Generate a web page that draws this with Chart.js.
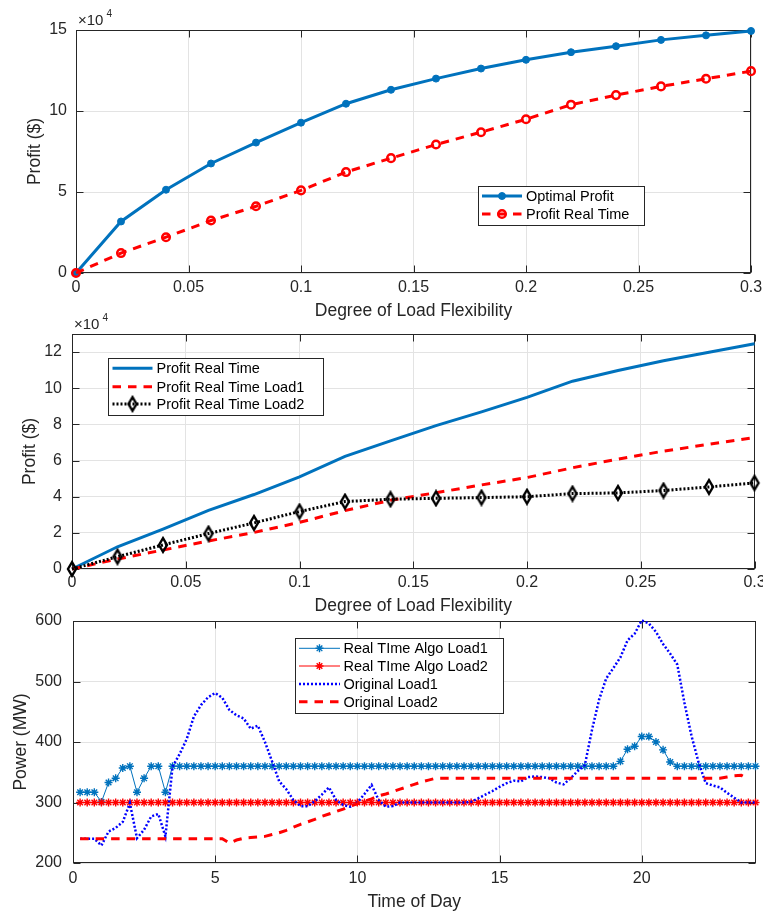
<!DOCTYPE html>
<html>
<head>
<meta charset="utf-8">
<title>Profit and load charts</title>
<script src="https://cdn.jsdelivr.net/npm/chart.js@4.4.1/dist/chart.umd.min.js"></script>
<style>
html, body { margin: 0; padding: 0; background: #fff; }
#page { position: relative; width: 763px; height: 916px; overflow: hidden; }
.panel { position: absolute; left: 0; width: 763px; }
</style>
</head>
<body>
<div id="page">
  <div class="panel" style="top:0;height:322px"><canvas id="profitChart"></canvas></div>
  <div class="panel" style="top:310px;height:313px"><canvas id="loadProfitChart"></canvas></div>
  <div class="panel" style="top:610px;height:306px"><canvas id="powerChart"></canvas></div>
</div>
<script>
// DATA

// degree of load flexibility (x of the two top panels)
const flexibility = [0, 0.02, 0.04, 0.06, 0.08, 0.10, 0.12, 0.14, 0.16, 0.18, 0.20, 0.22, 0.24, 0.26, 0.28, 0.30];

// profits in $
const optimalProfit = [0, 31800, 51400, 67600, 80500, 92800, 104500, 113100, 120000, 126200, 131600, 136300, 140000, 143900, 146700, 149400];
const profitRealTime = [0, 12300, 22100, 32400, 41200, 51000, 62300, 70900, 79300, 86900, 94900, 103900, 109800, 115200, 119900, 124600];
const profitLoad1 = [0, 5500, 10500, 15500, 20200, 25800, 32300, 38000, 42200, 46500, 50600, 56000, 60800, 65200, 69000, 72700];
const profitLoad2 = [0, 6800, 13300, 19600, 25500, 31800, 37300, 38600, 39100, 39500, 40000, 41700, 42100, 43400, 45400, 47600];

// time of day, quarter hours
const timeOfDay = [
  0.25, 0.5, 0.75, 1, 1.25, 1.5, 1.75, 2, 2.25, 2.5,
  2.75, 3, 3.25, 3.5, 3.75, 4, 4.25, 4.5, 4.75, 5,
  5.25, 5.5, 5.75, 6, 6.25, 6.5, 6.75, 7, 7.25, 7.5,
  7.75, 8, 8.25, 8.5, 8.75, 9, 9.25, 9.5, 9.75, 10,
  10.25, 10.5, 10.75, 11, 11.25, 11.5, 11.75, 12, 12.25, 12.5,
  12.75, 13, 13.25, 13.5, 13.75, 14, 14.25, 14.5, 14.75, 15,
  15.25, 15.5, 15.75, 16, 16.25, 16.5, 16.75, 17, 17.25, 17.5,
  17.75, 18, 18.25, 18.5, 18.75, 19, 19.25, 19.5, 19.75, 20,
  20.25, 20.5, 20.75, 21, 21.25, 21.5, 21.75, 22, 22.25, 22.5,
  22.75, 23, 23.25, 23.5, 23.75, 24
];

// power in MW
const realTimeLoad1 = [
  317, 317, 317, 301, 333, 340, 357, 360, 317, 340,
  360, 360, 317, 360, 360, 360, 360, 360, 360, 360,
  360, 360, 360, 360, 360, 360, 360, 360, 360, 360,
  360, 360, 360, 360, 360, 360, 360, 360, 360, 360,
  360, 360, 360, 360, 360, 360, 360, 360, 360, 360,
  360, 360, 360, 360, 360, 360, 360, 360, 360, 360,
  360, 360, 360, 360, 360, 360, 360, 360, 360, 360,
  360, 360, 360, 360, 360, 360, 368, 388, 393, 409,
  409, 400, 387, 367, 360, 360, 360, 360, 360, 360,
  360, 360, 360, 360, 360, 360
];
const realTimeLoad2 = [
  300, 300, 300, 300, 300, 300, 300, 300, 300, 300,
  300, 300, 300, 300, 300, 300, 300, 300, 300, 300,
  300, 300, 300, 300, 300, 300, 300, 300, 300, 300,
  300, 300, 300, 300, 300, 300, 300, 300, 300, 300,
  300, 300, 300, 300, 300, 300, 300, 300, 300, 300,
  300, 300, 300, 300, 300, 300, 300, 300, 300, 300,
  300, 300, 300, 300, 300, 300, 300, 300, 300, 300,
  300, 300, 300, 300, 300, 300, 300, 300, 300, 300,
  300, 300, 300, 300, 300, 300, 300, 300, 300, 300,
  300, 300, 300, 300, 300, 300
];
const originalLoad1 = [
  240, 240, 240, 229, 252, 258, 268, 299, 241, 255,
  277, 281, 244, 359, 380, 405, 442, 461, 474, 481,
  473, 453, 444, 439, 422, 427, 400, 368, 335, 322,
  304, 294, 294, 302, 313, 325, 304, 296, 293, 300,
  314, 329, 304, 293, 294, 300, 300, 300, 300, 300,
  300, 300, 300, 300, 300, 301, 307, 313, 319, 326,
  332, 336, 335, 342, 343, 342, 340, 333, 330, 340,
  352, 362, 420, 470, 505, 522, 540, 568, 579, 601,
  596, 582, 562, 546, 528, 465, 410, 366, 332, 328,
  325, 316, 308, 300, 300, 300
];
const originalLoad2 = [
  240, 240, 240, 240, 240, 240, 240, 240, 240, 240,
  240, 240, 240, 240, 240, 240, 240, 240, 240, 240,
  240, 233, 238, 241, 242, 243, 244, 247, 250, 254,
  259, 264, 268, 272, 277, 281, 285, 289, 294, 298,
  302, 306, 311, 314, 318, 322, 326, 330, 334, 337,
  340, 340, 340, 340, 340, 340, 340, 340, 340, 340,
  340, 340, 340, 340, 340, 340, 340, 340, 340, 340,
  340, 340, 340, 340, 340, 340, 340, 340, 340, 340,
  340, 340, 340, 340, 340, 340, 340, 340, 340, 340,
  340, 342, 344, 345, 338
];

// tick values
const flexTicks = [0, 0.05, 0.1, 0.15, 0.2, 0.25, 0.3];
const profitTicks = [0, 50000, 100000, 150000];
const loadProfitTicks = [0, 20000, 40000, 60000, 80000, 100000, 120000];
const hourTicks = [0, 5, 10, 15, 20];
const powerTicks = [200, 300, 400, 500, 600];

// STYLE
const FONT = "'Liberation Sans', Arial, Helvetica, sans-serif";
const INK = '#262626';
Chart.defaults.font.family = FONT;
Chart.defaults.color = INK;

const MATLAB_BLUE = '#0072BD';
const DASH = [8.5, 7];
const DOT = [2, 2];

function pts(xs, ys) {
  return xs.map((x, i) => ({ x: x, y: ys[i] }));
}

// tall matlab style diamond marker
function diamondMarker() {
  const c = document.createElement('canvas');
  c.width = 14; c.height = 18;
  const g = c.getContext('2d');
  g.strokeStyle = '#000';
  g.lineWidth = 2.4;
  g.beginPath();
  g.moveTo(7, 2.2); g.lineTo(11, 9); g.lineTo(7, 15.8); g.lineTo(3, 9);
  g.closePath();
  g.stroke();
  return c;
}
const diamond = diamondMarker();

function drawMarker(ctx, ds, x, y) {
  const style = ds.pointStyle;
  const r = ds.pointRadius;
  ctx.save();
  ctx.setLineDash([]);
  ctx.strokeStyle = ds.pointBorderColor;
  ctx.fillStyle = ds.pointBackgroundColor;
  ctx.lineWidth = ds.pointBorderWidth;
  if (style === 'circle') {
    ctx.beginPath();
    ctx.arc(x, y, r, 0, Math.PI * 2);
    ctx.fill();
    ctx.stroke();
  } else if (style === 'star') {
    ctx.beginPath();
    ctx.moveTo(x - r, y); ctx.lineTo(x + r, y);
    ctx.moveTo(x, y - r); ctx.lineTo(x, y + r);
    const d = r * Math.SQRT1_2;
    ctx.moveTo(x - d, y - d); ctx.lineTo(x + d, y + d);
    ctx.moveTo(x - d, y + d); ctx.lineTo(x + d, y - d);
    ctx.stroke();
  } else if (style && style.width) {
    ctx.drawImage(style, x - style.width / 2, y - style.height / 2);
  }
  ctx.restore();
}

// box round the axes, inward ticks, x10^4 label
const matlabAxes = {
  id: 'matlabAxes',
  beforeDatasetsDraw(chart) {
    const ctx = chart.ctx;
    const a = chart.chartArea;
    const L = Math.round(a.left) + 0.5, R = Math.round(a.right) - 0.5;
    const T = Math.round(a.top) + 0.5, B = Math.round(a.bottom) - 0.5;
    const tl = 7;
    ctx.save();
    ctx.strokeStyle = INK;
    ctx.lineWidth = 1;
    ctx.strokeRect(L, T, R - L, B - T);
    ctx.beginPath();
    const xs = chart.scales.x, ys = chart.scales.y;
    xs.ticks.forEach(t => {
      const p = Math.round(xs.getPixelForValue(t.value)) + 0.5;
      ctx.moveTo(p, B); ctx.lineTo(p, B - tl);
      ctx.moveTo(p, T); ctx.lineTo(p, T + tl);
    });
    ys.ticks.forEach(t => {
      const p = Math.round(ys.getPixelForValue(t.value)) + 0.5;
      ctx.moveTo(L, p); ctx.lineTo(L + tl, p);
      ctx.moveTo(R, p); ctx.lineTo(R - tl, p);
    });
    ctx.stroke();
    ctx.restore();
  },
  afterDraw(chart, args, opts) {
    if (!opts.exponent) return;
    const ctx = chart.ctx;
    const a = chart.chartArea;
    ctx.save();
    ctx.fillStyle = INK;
    ctx.textBaseline = 'alphabetic';
    ctx.font = '15px ' + FONT;
    const base = '\u00d710';
    ctx.fillText(base, a.left + 2, a.top - 5);
    const w = ctx.measureText(base).width;
    ctx.font = '10px ' + FONT;
    ctx.fillText(opts.exponent, a.left + 2 + w + 3, a.top - 13);
    ctx.restore();
  }
};

// legend box placed inside the axes
const boxLegend = {
  id: 'boxLegend',
  afterDraw(chart, args, o) {
    if (!o.rows) return;
    const ctx = chart.ctx;
    ctx.save();
    ctx.fillStyle = '#fff';
    ctx.fillRect(o.x, o.y, o.w, o.h);
    ctx.strokeStyle = INK;
    ctx.lineWidth = 1;
    ctx.strokeRect(o.x + 0.5, o.y + 0.5, o.w, o.h);
    o.rows.forEach((ry, i) => {
      const ds = chart.data.datasets[i];
      ctx.save();
      ctx.strokeStyle = ds.borderColor;
      ctx.lineWidth = ds.borderWidth;
      ctx.setLineDash(ds.borderDash || []);
      ctx.beginPath();
      ctx.moveTo(o.lineX0, ry);
      ctx.lineTo(o.lineX1, ry);
      ctx.stroke();
      ctx.restore();
      if (ds.pointRadius > 0) drawMarker(ctx, ds, (o.lineX0 + o.lineX1) / 2, ry);
      ctx.fillStyle = '#000';
      ctx.font = '14.5px ' + FONT;
      ctx.textBaseline = 'middle';
      ctx.fillText(ds.label, o.textX, ry + 1);
    });
    ctx.restore();
  }
};

function axisX(min, max, tickValues, title, tickPad, titlePad, height) {
  return {
    type: 'linear', min: min, max: max,
    afterBuildTicks: s => { s.ticks = tickValues.map(v => ({ value: v })); },
    ticks: {
      padding: tickPad, maxRotation: 0, autoSkip: false,
      font: { size: 16 }, color: INK,
      callback: v => String(+v.toFixed(2))
    },
    grid: { color: '#e3e3e3', drawTicks: false },
    border: { display: false },
    title: { display: true, text: title, font: { size: 17.5 }, color: INK, padding: { top: 0, bottom: titlePad } },
    afterFit: s => { s.height = height; s.paddingLeft = 0; s.paddingRight = 0; }
  };
}

function axisY(min, max, tickValues, title, tickPad, titlePad, width, div) {
  return {
    type: 'linear', min: min, max: max,
    afterBuildTicks: s => { s.ticks = tickValues.map(v => ({ value: v })); },
    ticks: {
      padding: tickPad, autoSkip: false,
      font: { size: 16 }, color: INK,
      callback: v => String(+(v / div).toFixed(2))
    },
    grid: { color: '#e3e3e3', drawTicks: false },
    border: { display: false },
    title: { display: true, text: title, font: { size: 17.5 }, color: INK, padding: { top: titlePad, bottom: 0 } },
    afterFit: s => { s.width = width; s.paddingTop = 0; s.paddingBottom = 0; }
  };
}

function baseOptions(pad, scales, legend, exponent) {
  return {
    responsive: true,
    maintainAspectRatio: false,
    animation: false,
    events: [],
    layout: { padding: { top: pad.top, right: pad.right, bottom: 0, left: 0 } },
    scales: scales,
    plugins: {
      legend: { display: false },
      tooltip: { enabled: false },
      matlabAxes: { exponent: exponent },
      boxLegend: legend
    }
  };
}

function ordered(list) {
  list.forEach((ds, i) => { ds.order = list.length - i; ds.clip = false; ds.tension = 0; });
  return list;
}

// top panel
new Chart(document.getElementById('profitChart'), {
  type: 'line',
  data: {
    datasets: ordered([
      {
        label: 'Optimal Profit', data: pts(flexibility, optimalProfit),
        borderColor: MATLAB_BLUE, borderWidth: 3,
        pointStyle: 'circle', pointRadius: 3.5, pointBackgroundColor: MATLAB_BLUE,
        pointBorderColor: MATLAB_BLUE, pointBorderWidth: 1
      },
      {
        label: 'Profit Real Time', data: pts(flexibility, profitRealTime),
        borderColor: '#FF0000', borderWidth: 3, borderDash: DASH,
        pointStyle: 'circle', pointRadius: 3.8, pointBackgroundColor: 'rgba(0,0,0,0)',
        pointBorderColor: '#FF0000', pointBorderWidth: 2.5
      }
    ])
  },
  options: baseOptions(
    { top: 30, right: 12 },
    {
      x: axisX(0, 0.3, flexTicks, 'Degree of Load Flexibility', 5, 0.5, 49),
      y: axisY(0, 150000, profitTicks, 'Profit ($)', 9, 24.5, 76, 10000)
    },
    { x: 478, y: 186, w: 166, h: 39, lineX0: 482, lineX1: 522, textX: 526, rows: [196, 214] },
    '4'
  ),
  plugins: [matlabAxes, boxLegend]
});

// middle panel
new Chart(document.getElementById('loadProfitChart'), {
  type: 'line',
  data: {
    datasets: ordered([
      {
        label: 'Profit Real Time', data: pts(flexibility, profitRealTime),
        borderColor: MATLAB_BLUE, borderWidth: 3, pointRadius: 0
      },
      {
        label: 'Profit Real Time Load1', data: pts(flexibility, profitLoad1),
        borderColor: '#FF0000', borderWidth: 3, borderDash: DASH, pointRadius: 0
      },
      {
        label: 'Profit Real Time Load2', data: pts(flexibility, profitLoad2),
        borderColor: '#000000', borderWidth: 3, borderDash: DOT,
        pointStyle: diamond, pointRadius: 5, pointBorderWidth: 0
      }
    ])
  },
  options: baseOptions(
    { top: 24, right: 8.5 },
    {
      x: axisX(0, 0.3, flexTicks, 'Degree of Load Flexibility', 4.4, 6.5, 54),
      y: axisY(0, 130000, loadProfitTicks, 'Profit ($)', 10, 19.5, 72, 10000)
    },
    { x: 108, y: 48, w: 215, h: 57, lineX0: 112.5, lineX1: 152.5, textX: 156.5, rows: [58.3, 76.7, 94] },
    '4'
  ),
  plugins: [matlabAxes, boxLegend]
});

// bottom panel
new Chart(document.getElementById('powerChart'), {
  type: 'line',
  data: {
    datasets: ordered([
      {
        label: 'Real TIme Algo Load1', data: pts(timeOfDay, realTimeLoad1),
        borderColor: MATLAB_BLUE, borderWidth: 1,
        pointStyle: 'star', pointRadius: 4, pointBorderColor: MATLAB_BLUE,
        pointBackgroundColor: MATLAB_BLUE, pointBorderWidth: 1.4
      },
      {
        label: 'Real TIme Algo Load2', data: pts(timeOfDay, realTimeLoad2),
        borderColor: '#FF0000', borderWidth: 1,
        pointStyle: 'star', pointRadius: 4, pointBorderColor: '#FF0000',
        pointBackgroundColor: '#FF0000', pointBorderWidth: 1.4
      },
      {
        label: 'Original Load1', data: pts(timeOfDay, originalLoad1),
        borderColor: '#0000FF', borderWidth: 2.5, borderDash: DOT, pointRadius: 0
      },
      {
        label: 'Original Load2', data: pts(timeOfDay, originalLoad2),
        borderColor: '#FF0000', borderWidth: 3, borderDash: DASH, pointRadius: 0
      }
    ])
  },
  options: baseOptions(
    { top: 11, right: 7.5 },
    {
      x: axisX(0, 24, hourTicks, 'Time of Day', 6.4, 3.5, 53),
      y: axisY(200, 600, powerTicks, 'Power (MW)', 11, 10.5, 73, 1)
    },
    { x: 295, y: 28, w: 208, h: 75, lineX0: 299, lineX1: 340, textX: 343.5, rows: [38.3, 56, 74, 91.7] },
    null
  ),
  plugins: [matlabAxes, boxLegend]
});
</script>
</body>
</html>
